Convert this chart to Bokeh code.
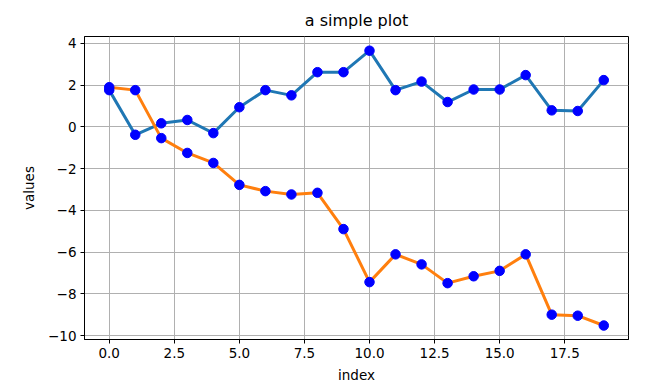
from bokeh.plotting import figure
from bokeh.models import FixedTicker, Range1d, ColumnDataSource
from bokeh.embed import file_html
from bokeh.resources import INLINE

index = list(range(20))
series_a = [1.76, -0.38, 0.17, 0.33, -0.30, 0.94, 1.76, 1.51, 2.62, 2.62,
            3.65, 1.76, 2.17, 1.19, 1.79, 1.79, 2.48, 0.79, 0.76, 2.24]
series_b = [1.90, 1.76, -0.54, -1.25, -1.73, -2.78, -3.08, -3.24, -3.16, -4.90,
            -7.44, -6.11, -6.59, -7.49, -7.16, -6.90, -6.11, -9.00, -9.05, -9.52]
x_ticks = [0, 2.5, 5, 7.5, 10, 12.5, 15, 17.5]
x_tick_labels = ["0.0", "2.5", "5.0", "7.5", "10.0", "12.5", "15.0", "17.5"]
y_ticks = [-10, -8, -6, -4, -2, 0, 2, 4]
y_tick_labels = ["\u221210", "\u22128", "\u22126", "\u22124", "\u22122", "0", "2", "4"]

FONT = "DejaVu Sans"

p = figure(width=640, height=385, output_backend="svg", toolbar_location=None,
           title="a simple plot", x_axis_label="index", y_axis_label="values",
           x_range=Range1d(-0.95, 19.95), y_range=Range1d(-10.19, 4.33),
           min_border_left=84, min_border_right=12, min_border_top=36, min_border_bottom=44)

p.title.align = "center"
p.title.text_font = FONT
p.title.text_font_size = "16px"
p.title.text_font_style = "normal"
p.title.text_color = "black"
p.title.offset = 0
p.title.standoff = 13

src_a = ColumnDataSource(dict(x=index, y=series_a))
src_b = ColumnDataSource(dict(x=index, y=series_b))
p.line("x", "y", source=src_a, line_color="#1f77b4", line_width=3)
p.line("x", "y", source=src_b, line_color="#ff7f0e", line_width=3)
p.scatter("x", "y", source=src_a, size=9.5, fill_color="blue", line_color="blue")
p.scatter("x", "y", source=src_b, size=9.5, fill_color="blue", line_color="blue")

p.xaxis.ticker = FixedTicker(ticks=x_ticks)
p.xaxis.major_label_overrides = {t: l for t, l in zip(x_ticks, x_tick_labels)}
p.yaxis.ticker = FixedTicker(ticks=y_ticks)
p.yaxis.major_label_overrides = {t: l for t, l in zip(y_ticks, y_tick_labels)}

for ax in (p.xaxis, p.yaxis):
    ax.axis_line_color = "black"
    ax.major_tick_line_color = "black"
    ax.major_tick_out = 4
    ax.major_tick_in = 0
    ax.minor_tick_line_color = None
    ax.major_label_text_font = FONT
    ax.major_label_text_font_size = "13.5px"
    ax.major_label_text_color = "black"
    ax.axis_label_text_font = FONT
    ax.axis_label_text_font_size = "13.5px"
    ax.axis_label_text_font_style = "normal"
    ax.axis_label_text_color = "black"
    ax.major_label_standoff = 4

p.xaxis.axis_label_standoff = 6
p.yaxis.axis_label_standoff = 8

p.xgrid.grid_line_color = "#b0b0b0"
p.ygrid.grid_line_color = "#b0b0b0"
p.xgrid.grid_line_width = 1
p.ygrid.grid_line_width = 1
p.outline_line_color = "black"
p.outline_line_width = 1
p.outline_line_alpha = 1.0

open("out.html", "w").write(file_html(p, INLINE))
